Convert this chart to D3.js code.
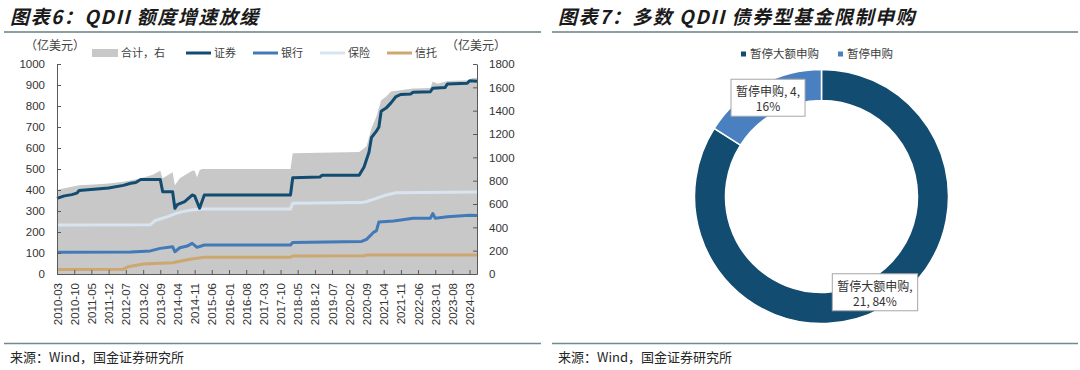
<!DOCTYPE html>
<html>
<head>
<meta charset="utf-8">
<script src="https://cdn.jsdelivr.net/npm/d3@7"></script>
<style>
  body { margin: 0; background: #fff; }
  text { font-family: "Liberation Sans", "Noto Sans CJK SC", sans-serif; }
  .cjk { font-family: "Noto Sans CJK SC", sans-serif; }
  .axis path, .axis line { stroke: #595959; }
  .axis text { fill: #333; font-size: 11.5px; }
</style>
</head>
<body>
<div id="chart"></div>
<script>
// Data (亿美元), left chart
var xTicks = ["2010-03", "2010-10", "2011-05", "2011-12", "2012-07", "2013-02", "2013-09",
  "2014-04", "2014-11", "2015-06", "2016-01", "2016-08", "2017-03", "2017-10", "2018-05",
  "2018-12", "2019-07", "2020-02", "2020-09", "2021-04", "2021-11", "2022-06", "2023-01",
  "2023-08", "2024-03"];

// 合计 (right axis)
var total = [["2010-03", 720], ["2010-06", 735], ["2010-12", 760], ["2011-06", 768], ["2011-12", 775],
  ["2012-06", 790], ["2012-12", 815], ["2013-06", 850], ["2013-09", 885], ["2013-10", 820],
  ["2014-02", 872], ["2014-03", 760], ["2014-05", 820], ["2014-10", 885], ["2014-11", 885],
  ["2014-12", 830], ["2015-01", 890], ["2015-02", 900], ["2018-02", 900], ["2018-03", 1035],
  ["2020-06", 1045], ["2020-07", 1060], ["2020-09", 1095], ["2020-10", 1170], ["2020-11", 1250],
  ["2021-01", 1350], ["2021-03", 1490], ["2021-05", 1520], ["2021-07", 1565], ["2022-04", 1590],
  ["2022-11", 1595], ["2022-12", 1650], ["2023-02", 1630], ["2023-06", 1655], ["2024-03", 1660],
  ["2024-04", 1680], ["2024-06", 1680]];

// 证券
var securities = [["2010-03", 360], ["2010-06", 372], ["2010-09", 378], ["2010-11", 385], ["2010-12", 398],
  ["2011-06", 404], ["2011-12", 410], ["2012-06", 422], ["2012-09", 432], ["2012-11", 436],
  ["2013-01", 450], ["2013-09", 450], ["2013-10", 392], ["2014-02", 392], ["2014-03", 313],
  ["2014-04", 330], ["2014-07", 345], ["2014-10", 376], ["2014-11", 372], ["2015-01", 313],
  ["2015-03", 376], ["2018-02", 376], ["2018-03", 458], ["2019-02", 462], ["2019-03", 470],
  ["2020-06", 470], ["2020-08", 510], ["2020-09", 545], ["2020-10", 580], ["2020-11", 650],
  ["2021-01", 680], ["2021-02", 700], ["2021-03", 775], ["2021-05", 790], ["2021-07", 815],
  ["2021-09", 845], ["2021-11", 855], ["2022-03", 857], ["2022-04", 865], ["2022-11", 868],
  ["2022-12", 885], ["2023-05", 888], ["2023-06", 905], ["2024-02", 908], ["2024-03", 920],
  ["2024-06", 918]];

// 银行
var banks = [["2010-03", 103], ["2012-09", 105], ["2013-05", 110], ["2013-09", 122], ["2014-02", 130],
  ["2014-03", 106], ["2014-05", 125], ["2014-08", 133], ["2014-10", 146], ["2014-12", 127],
  ["2015-03", 138], ["2018-02", 138], ["2018-03", 150], ["2020-07", 155], ["2020-09", 165],
  ["2020-12", 200], ["2021-01", 205], ["2021-02", 248], ["2021-08", 252], ["2021-11", 257],
  ["2022-04", 265], ["2022-11", 265], ["2022-12", 288], ["2023-01", 265], ["2023-06", 273],
  ["2024-03", 280], ["2024-06", 278]];

// 保险
var insurance = [["2010-03", 233], ["2013-05", 235], ["2013-07", 255], ["2013-09", 262], ["2013-12", 273],
  ["2014-03", 286], ["2014-06", 297], ["2014-10", 305], ["2015-01", 308], ["2015-03", 310],
  ["2018-02", 310], ["2018-03", 337], ["2020-07", 340], ["2020-09", 345], ["2021-01", 360],
  ["2021-05", 376], ["2021-09", 387], ["2024-06", 390]];

// 信托
var trusts = [["2010-03", 22], ["2012-06", 23], ["2012-08", 35], ["2013-02", 48], ["2014-02", 54],
  ["2014-09", 70], ["2015-03", 80], ["2018-02", 80], ["2018-03", 86], ["2020-08", 87],
  ["2020-09", 90], ["2024-06", 90]];

// Right chart
var pieNames = ["暂停大额申购", "暂停申购"];
var pieValues = [21, 4];
var piePercents = [84, 16];

var width = 1080;
var height = 370;

var svg = d3.select("#chart").append("svg")
  .attr("width", width)
  .attr("height", height);

svg.append("rect").attr("width", width).attr("height", height).attr("fill", "#fff");

// Titles, rules and sources
function header(x0, x1, title) {
  svg.append("text")
    .attr("class", "cjk")
    .attr("x", x0 + 6)
    .attr("y", 24)
    .attr("font-size", 19)
    .attr("font-weight", "bold")
    .attr("font-style", "italic")
    .attr("letter-spacing", 1.5)
    .attr("fill", "#1a1a1a")
    .text(title);
  svg.append("line")
    .attr("x1", x0).attr("x2", x1)
    .attr("y1", 32).attr("y2", 32)
    .attr("stroke", "#8aa0a2").attr("stroke-width", 2);
  svg.append("line")
    .attr("x1", x0).attr("x2", x1)
    .attr("y1", 343.5).attr("y2", 343.5)
    .attr("stroke", "#6e8c8e").attr("stroke-width", 1.3);
  svg.append("text")
    .attr("class", "cjk")
    .attr("x", x0 + 6)
    .attr("y", 362)
    .attr("font-size", 13)
    .attr("fill", "#262626")
    .text("来源：Wind，国金证券研究所");
}
header(4, 541, "图表6：QDII 额度增速放缓");
header(552, 1078, "图表7：多数 QDII 债券型基金限制申购");

// Left chart
var parse = d3.timeParse("%Y-%m");
var plotLeft = 57, plotRight = 477, plotTop = 64, plotBottom = 274;

var xScale = d3.scaleTime()
  .domain([parse("2010-03"), parse("2024-06")])
  .range([plotLeft, plotRight]);
var yLeft = d3.scaleLinear().domain([0, 1000]).range([plotBottom, plotTop]);
var yRight = d3.scaleLinear().domain([0, 1800]).range([plotBottom, plotTop]);

var area = d3.area()
  .x(function(d) { return xScale(parse(d[0])); })
  .y0(yRight(0))
  .y1(function(d) { return yRight(d[1]); });

svg.append("path")
  .datum(total)
  .attr("d", area)
  .attr("fill", "#c8c8c8");

var line = d3.line()
  .x(function(d) { return xScale(parse(d[0])); })
  .y(function(d) { return yLeft(d[1]); });

var series = [
  { data: trusts, color: "#cda770" },
  { data: insurance, color: "#d9e4f1" },
  { data: banks, color: "#4279b7" },
  { data: securities, color: "#124c70" }
];

series.forEach(function(s) {
  svg.append("path")
    .datum(s.data)
    .attr("d", line)
    .attr("fill", "none")
    .attr("stroke", s.color)
    .attr("stroke-width", 3)
    .attr("stroke-linejoin", "round");
});

// Axes
svg.append("g")
  .attr("class", "axis")
  .attr("transform", "translate(" + plotLeft + ",0)")
  .call(d3.axisLeft(yLeft).tickValues(d3.range(0, 1001, 100)).tickFormat(d3.format("d"))
    .tickSizeInner(-4).tickSizeOuter(0).tickPadding(12));

svg.append("g")
  .attr("class", "axis")
  .attr("transform", "translate(" + plotRight + ",0)")
  .call(d3.axisRight(yRight).tickValues(d3.range(0, 1801, 200)).tickFormat(d3.format("d"))
    .tickSizeInner(-4).tickSizeOuter(0).tickPadding(12));

var xAxis = svg.append("g")
  .attr("class", "axis")
  .attr("transform", "translate(0," + plotBottom + ")")
  .call(d3.axisBottom(xScale)
    .tickValues(xTicks.map(parse))
    .tickFormat(d3.timeFormat("%Y-%m"))
    .tickSizeInner(-4).tickSizeOuter(0));

xAxis.selectAll("text")
  .attr("font-size", 12)
  .attr("transform", "rotate(-90)")
  .attr("text-anchor", "end")
  .attr("x", -9)
  .attr("y", 0)
  .attr("dy", "0.35em");

// Unit labels
svg.append("text").attr("class", "cjk").attr("x", 25).attr("y", 50)
  .attr("font-size", 12).attr("fill", "#404040").text("（亿美元）");
svg.append("text").attr("class", "cjk").attr("x", 446).attr("y", 50)
  .attr("font-size", 12).attr("fill", "#404040").text("（亿美元）");

// Legend
var legendY = 53;
svg.append("rect").attr("x", 92).attr("y", legendY - 4).attr("width", 26).attr("height", 8).attr("fill", "#c8c8c8");
svg.append("text").attr("class", "cjk").attr("x", 121).attr("y", legendY + 4)
  .attr("font-size", 11).attr("fill", "#404040").text("合计，右");

var legendItems = [
  { name: "证券", color: "#124c70", x: 186 },
  { name: "银行", color: "#4279b7", x: 253 },
  { name: "保险", color: "#d9e4f1", x: 320 },
  { name: "信托", color: "#cda770", x: 387 }
];
legendItems.forEach(function(d) {
  svg.append("line")
    .attr("x1", d.x).attr("x2", d.x + 25)
    .attr("y1", legendY).attr("y2", legendY)
    .attr("stroke", d.color).attr("stroke-width", 3);
  svg.append("text").attr("class", "cjk")
    .attr("x", d.x + 28).attr("y", legendY + 4)
    .attr("font-size", 11).attr("fill", "#404040").text(d.name);
});

// Right chart: donut
var pieColors = ["#124c70", "#4a7fc0"];
var cx = 821.5, cy = 196.5, outerR = 127, innerR = 96;

var pie = d3.pie().sort(null).value(function(d) { return d; });
var arcs = pie(pieValues);
var arc = d3.arc().innerRadius(innerR).outerRadius(outerR);
var labelArc = d3.arc().innerRadius(111).outerRadius(111);

var donut = svg.append("g").attr("transform", "translate(" + cx + "," + cy + ")");

donut.selectAll("path")
  .data(arcs)
  .enter()
  .append("path")
  .attr("d", arc)
  .attr("fill", function(d, i) { return pieColors[i]; })
  .attr("stroke", "#fff")
  .attr("stroke-width", 1.5);

// Data labels in boxes
var lineSplit = [1, 2];
arcs.forEach(function(d, i) {
  var parts = [pieNames[i], String(pieValues[i]), piePercents[i] + "%"];
  var first = parts.slice(0, lineSplit[i]).join(", ") + ",";
  var second = parts.slice(lineSplit[i]).join(", ");
  var c = labelArc.centroid(d);
  var g = donut.append("g").attr("transform", "translate(" + c[0] + "," + c[1] + ")");
  var box = g.append("rect").attr("fill", "#fff").attr("stroke", "#a6a6a6").attr("stroke-width", 1);
  var t = g.append("text")
    .attr("class", "cjk")
    .attr("text-anchor", "middle")
    .attr("font-size", 12)
    .attr("fill", "#333");
  t.append("tspan").attr("x", 0).attr("y", -3).text(first);
  t.append("tspan").attr("x", 0).attr("y", 12).text(second);
  var bb = t.node().getBBox();
  box.attr("x", bb.x - 5).attr("y", bb.y - 3)
    .attr("width", bb.width + 10).attr("height", bb.height + 5);
});

// Donut legend
var pieLegend = [{ x: 741 }, { x: 838 }];
pieLegend.forEach(function(d, i) {
  svg.append("rect").attr("x", d.x).attr("y", 51.5).attr("width", 5).attr("height", 5).attr("fill", pieColors[i]);
  svg.append("text").attr("class", "cjk").attr("x", d.x + 9).attr("y", 58)
    .attr("font-size", 11.5).attr("fill", "#404040").text(pieNames[i]);
});
</script>
</body>
</html>
